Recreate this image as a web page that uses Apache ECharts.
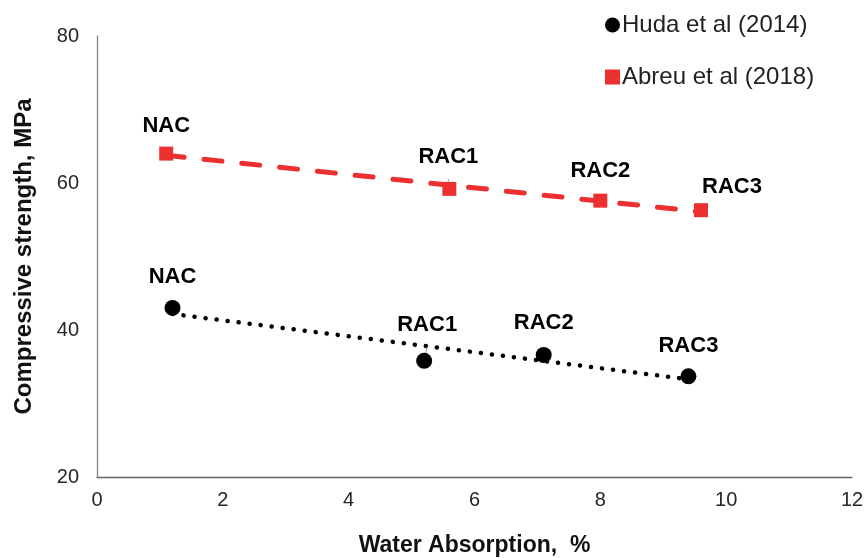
<!DOCTYPE html>
<html>
<head>
<meta charset="utf-8">
<script src="https://cdn.jsdelivr.net/npm/echarts@6/dist/echarts.min.js"></script>
<style>
  html, body { margin: 0; padding: 0; background: #fff; }
  #chart { width: 865px; height: 558px; }
</style>
</head>
<body>
<div id="chart"></div>
<script>
// values
var hudaX = [1.2, 5.2, 7.1, 9.4];
var hudaY = [43.0, 35.8, 36.6, 33.7];
var hudaNames = ['NAC', 'RAC1', 'RAC2', 'RAC3'];

var abreuX = [1.1, 5.6, 8.0, 9.6];
var abreuY = [64.0, 59.2, 57.6, 56.3];
var abreuNames = ['NAC', 'RAC1', 'RAC2', 'RAC3'];

var xTicks = [0, 2, 4, 6, 8, 10, 12];
var yTicks = [20, 40, 60, 80];

// label nudges (layout only)
var hudaLabelOffset = [[0, -2], [3, -7], [0, -3], [0, -1]];
var abreuLabelOffset = [[0, 0], [-1, -4], [0, -2], [31, 5]];

var FONT = '"Liberation Sans", Arial, sans-serif';
var RED = '#ec3030';

// excel style linear trendline over the measured points
function trend(xs, ys) {
    var n = xs.length, mx = 0, my = 0;
    for (var i = 0; i < n; i++) { mx += xs[i]; my += ys[i]; }
    mx /= n; my /= n;
    var sxy = 0, sxx = 0;
    for (var j = 0; j < n; j++) {
        sxy += (xs[j] - mx) * (ys[j] - my);
        sxx += (xs[j] - mx) * (xs[j] - mx);
    }
    var k = sxy / sxx;
    var x0 = Math.min.apply(null, xs), x1 = Math.max.apply(null, xs);
    return [[x0, my + k * (x0 - mx)], [x1, my + k * (x1 - mx)]];
}

function points(xs, ys, names, offsets) {
    return xs.map(function (x, i) {
        var item = {
            value: [x, ys[i]],
            name: names[i],
            label: { offset: offsets[i] }
        };
        if (names[i] === 'RAC1') {
            item.labelLine = { show: true, lineStyle: { color: '#9a9a9a', width: 1 } };
        }
        return item;
    });
}

var myChart = echarts.init(document.getElementById('chart'));

var labelStyle = {
    show: true,
    position: 'top',
    distance: 10,
    formatter: '{b}',
    color: '#000',
    fontFamily: FONT,
    fontWeight: 'bold',
    fontSize: 22
};

option = {
    animation: false,
    backgroundColor: '#fff',
    grid: {
        left: 97,
        right: 13,
        top: 36,
        bottom: 81,
        containLabel: false,
        outerBoundsMode: 'none'
    },
    legend: {
        orient: 'vertical',
        left: 600,
        top: 8,
        itemGap: 28,
        itemWidth: 15,
        itemHeight: 15,
        itemStyle: { borderWidth: 0 },
        textStyle: { fontFamily: FONT, fontSize: 24, color: '#222', padding: [0, 0, 0, -3] },
        data: [
            { name: 'Huda et al (2014)', icon: 'circle' },
            { name: 'Abreu et al (2018)', icon: 'rect' }
        ]
    },
    xAxis: {
        type: 'value',
        min: xTicks[0],
        max: xTicks[xTicks.length - 1],
        interval: 2,
        name: 'Water Absorption,  %',
        nameLocation: 'middle',
        nameGap: 57,
        nameTextStyle: { fontFamily: FONT, fontWeight: 'bold', fontSize: 23, color: '#111' },
        axisLine: { show: true, onZero: false, lineStyle: { color: '#666', width: 1.3 } },
        axisTick: { show: false },
        splitLine: { show: false },
        axisLabel: { margin: 13, fontFamily: FONT, fontSize: 20, color: '#262626' }
    },
    yAxis: {
        type: 'value',
        min: yTicks[0],
        max: yTicks[yTicks.length - 1],
        interval: 20,
        name: 'Compressive strength, MPa',
        nameLocation: 'middle',
        nameGap: 61,
        nameTextStyle: { fontFamily: FONT, fontWeight: 'bold', fontSize: 24, color: '#111' },
        axisLine: { show: true, lineStyle: { color: '#888', width: 1.3 } },
        axisTick: { show: false },
        splitLine: { show: false },
        axisLabel: { margin: 18, fontFamily: FONT, fontSize: 20, color: '#262626' }
    },
    series: [
        {
            name: 'Huda trend',
            type: 'line',
            data: trend(hudaX, hudaY),
            showSymbol: false,
            silent: true,
            z: 1,
            lineStyle: { color: '#000', width: 4.5, type: [0.1, 11], cap: 'round' }
        },
        {
            name: 'Abreu trend',
            type: 'line',
            data: trend(abreuX, abreuY),
            showSymbol: false,
            silent: true,
            z: 1,
            lineStyle: { color: RED, width: 5, type: [18, 20], cap: 'round' }
        },
        {
            name: 'Huda et al (2014)',
            type: 'scatter',
            symbol: 'circle',
            symbolSize: 16,
            z: 3,
            itemStyle: { color: '#000', opacity: 1 },
            label: labelStyle,
            data: points(hudaX, hudaY, hudaNames, hudaLabelOffset)
        },
        {
            name: 'Abreu et al (2018)',
            type: 'scatter',
            symbol: 'rect',
            symbolSize: 14,
            z: 3,
            itemStyle: { color: RED, opacity: 1 },
            label: labelStyle,
            data: points(abreuX, abreuY, abreuNames, abreuLabelOffset)
        }
    ]
};

myChart.setOption(option);
</script>
</body>
</html>
